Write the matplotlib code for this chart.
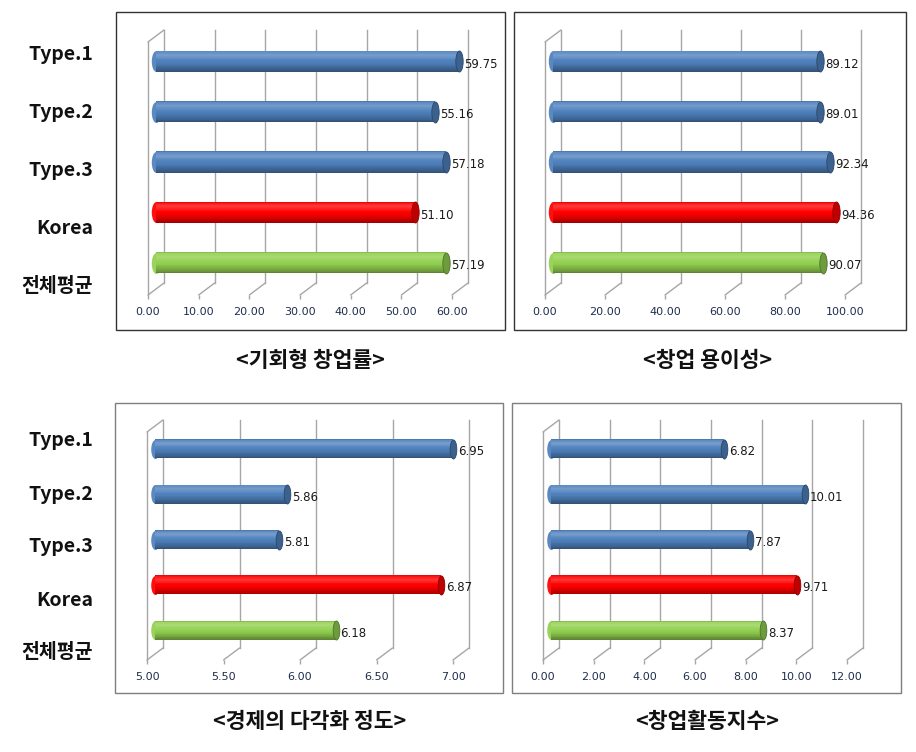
import numpy as np
import matplotlib
matplotlib.use("Agg")
import matplotlib.pyplot as plt
from matplotlib.colors import to_rgb
from matplotlib.markers import MarkerStyle
from matplotlib.path import Path
from matplotlib.patches import Rectangle
from matplotlib.transforms import Affine2D, ScaledTranslation

plt.rcParams["font.family"] = ["Noto Sans CJK KR", "DejaVu Sans"]

# data
categories = ["Type.1", "Type.2", "Type.3", "Korea", "전체평균"]
opportunity_rate = [59.75, 55.16, 57.18, 51.10, 57.19]
startup_ease = [89.12, 89.01, 92.34, 94.36, 90.07]
diversification = [6.95, 5.86, 5.81, 6.87, 6.18]
activity_index = [6.82, 10.01, 7.87, 9.71, 8.37]

ticks_opportunity = [0, 10, 20, 30, 40, 50, 60]
ticks_ease = [0, 20, 40, 60, 80, 100]
ticks_div = [5.0, 5.5, 6.0, 6.5, 7.0]
ticks_activity = [0, 2, 4, 6, 8, 10, 12]

titles = ["<기회형 창업률>", "<창업 용이성>", "<경제의 다각화 정도>", "<창업활동지수>"]

bar_colors = ["#4F81BD", "#4F81BD", "#4F81BD", "#FF0000", "#92D050"]

W, H = 916, 752
fig = plt.figure(figsize=(W / 100, H / 100), dpi=100)

GRID = "#A6A6A6"
DX, DY = 16, 12  # depth of the fake 3d floor, px


def shade(base, t):
    # cylinder shading: light band near the top, darker towards the bottom
    c = np.array(to_rgb(base))
    hi = max(0.0, 1 - abs(t - 0.22) / 0.25) * 0.22
    c = c + (1 - c) * hi
    dk = max(0.0, (t - 0.5) / 0.5) ** 1.3 * 0.38
    c = c * (1 - dk)
    if t < 0.05:
        c = c * 0.9
    return tuple(np.clip(c, 0, 1))


def ellipse_marker(aspect):
    circ = Path.unit_circle()
    return MarkerStyle(Path(Affine2D().scale(aspect, 1.0).transform_path(circ).vertices, circ.codes))


cap_marker = ellipse_marker(0.35)
end_marker = ellipse_marker(0.45)


def panel(values, ticks, px_x0, px_x1, px_floor, px_top, bar_px, frame, frame_color, title, title_xy):
    # frame around the panel
    fig.add_artist(Rectangle((frame[0] / W, 1 - frame[3] / H),
                             (frame[2] - frame[0]) / W, (frame[3] - frame[1]) / H,
                             transform=fig.transFigure, fill=False,
                             edgecolor=frame_color, lw=1.0))
    ax = fig.add_axes([px_x0 / W, 1 - px_floor / H, (px_x1 - px_x0) / W, (px_floor - px_top) / H])
    ax.set_axis_off()
    xmin, xmax = ticks[0], ticks[-1]
    ybot, ytop = 4.52, -0.5
    ax.set_xlim(xmin, xmax)
    ax.set_ylim(ybot, ytop)

    back = ax.transData + ScaledTranslation(DX / 100, DY / 100, fig.dpi_scale_trans)
    mid = ax.transData + ScaledTranslation(DX / 200, DY / 200, fig.dpi_scale_trans)

    # back wall gridlines + floor
    for x in ticks:
        ax.plot([x, x], [ybot, ytop], color=GRID, lw=1.0, transform=back, clip_on=False, zorder=1)
        ax.annotate("", xy=(x, ybot), xytext=(DX * 0.72, DY * 0.72), textcoords="offset points",
                    arrowprops=dict(arrowstyle="-", color=GRID, lw=1.0, shrinkA=0, shrinkB=0),
                    annotation_clip=False, zorder=1)
        ax.annotate(f"{x:.2f}", xy=(x, ybot), xytext=(0, -12.2), textcoords="offset points",
                    ha="center", va="center", fontsize=8, color="#1F2D4D",
                    family=["DejaVu Sans"], annotation_clip=False)
    ax.plot(ticks, [ybot] * len(ticks), ls="none", marker=3, ms=3, color=GRID,
            clip_on=False, zorder=1)
    # left wall
    ax.plot([xmin, xmin], [ybot, ytop], color=GRID, lw=1.0, clip_on=False, zorder=1)
    ax.annotate("", xy=(xmin, ytop), xytext=(DX * 0.72, DY * 0.72), textcoords="offset points",
                arrowprops=dict(arrowstyle="-", color=GRID, lw=1.0, shrinkA=0, shrinkB=0),
                annotation_clip=False, zorder=1)

    # cylinders
    h = bar_px / 50.0 if bar_px > 20 else bar_px / 45.5
    n = 24
    ms = bar_px * 0.72
    for i, (v, col) in enumerate(zip(values, bar_colors)):
        ax.plot([xmin], [i], ls="none", marker=end_marker, ms=ms, color=shade(col, 0.4),
                mec="none", transform=mid, clip_on=False, zorder=3)
        for k in range(n):
            t = (k + 0.5) / n
            yc = i - h / 2 + t * h
            ax.barh(yc, v - xmin, height=h / n * 1.05, left=xmin, color=shade(col, t),
                    lw=0, transform=mid, clip_on=False, zorder=4)
        cap = tuple(np.array(to_rgb(col)) * 0.75)
        edge = tuple(np.array(to_rgb(col)) * 0.55)
        ax.plot([v], [i], ls="none", marker=cap_marker, ms=ms, color=cap, mec=edge, mew=0.6,
                transform=mid, clip_on=False, zorder=5)
        ax.annotate(f"{v:.2f}", xy=(v, i), xytext=(9.4, 2.2), textcoords="offset points",
                    ha="left", va="center", fontsize=8.5, color="#1A1A1A",
                    family=["DejaVu Sans"], annotation_clip=False, zorder=6)
    ax.set_xlim(xmin, xmax)
    ax.set_ylim(ybot, ytop)

    fig.text(title_xy[0] / W, 1 - title_xy[1] / H, title, ha="center", va="center",
             fontsize=15.5, fontweight="bold", color="#111111")


panel(opportunity_rate, ticks_opportunity, 148, 452, 295, 42, 21,
      (116, 12, 505, 330), "#333333", titles[0], (310, 360))
panel(startup_ease, ticks_ease, 545, 845, 295, 42, 21,
      (514, 12, 906, 330), "#333333", titles[1], (708, 360))
panel(diversification, ticks_div, 147, 453, 660, 432, 19,
      (115, 403, 503, 693), "#7F7F7F", titles[2], (310, 721))
panel(activity_index, ticks_activity, 543, 847, 660, 432, 19,
      (512, 403, 901, 693), "#7F7F7F", titles[3], (707, 721))

# row labels
for top_y, step in [(55, 58), (441, 53)]:
    for i, name in enumerate(categories):
        fig.text(93 / W, 1 - (top_y + i * step) / H, name, ha="right", va="center",
                 fontsize=14, fontweight="bold", color="#111111")

fig.savefig("out.png", dpi=100)
